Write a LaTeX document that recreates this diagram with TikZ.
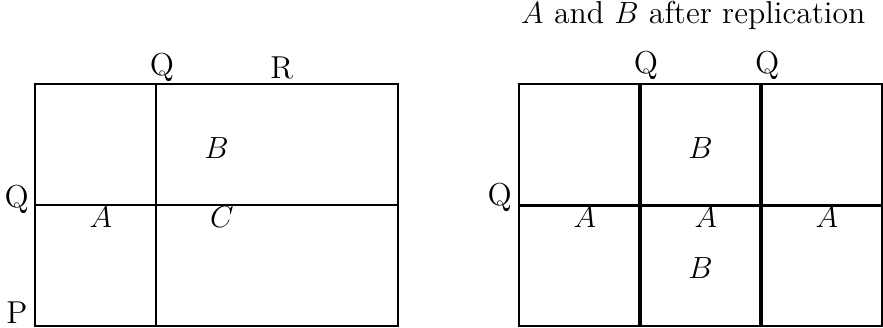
\documentclass[tikz,border=0pt]{standalone}
\begin{document}
\begin{tikzpicture}[x=2cm,y=2cm,font=\fontsize{14.9}{18}\selectfont,
    cell/.style={line width=0.95pt},
    cut/.style={line width=1.9pt},
    mid/.style={line width=1.4pt}]
  \useasboundingbox (-0.289,-0.012) rectangle (7.008,2.698);
  % before
  \draw[cell] (0,0) rectangle (3,2);
  \draw[cell] (1,0)--(1,2);
  \draw[cell] (0,1)--(3,1);
  \node (qtop) at (1.05,2.14) {Q};
  \node (rtop) at (2.04,2.14) {R};
  \node (qleft) at (-0.15,1.05) {Q};
  \node (pleft) at (-0.15,0.115) {P};
  \node (b) at (1.5,1.475) {$B$};
  \node (a) at (0.545,0.905) {$A$};
  \node (c) at (1.545,0.905) {$C$};
  % after
  \draw[cell] (4,0) rectangle (7,2);
  \draw[mid] (4,1)--(7,1);
  \draw[cut] (5,0)--(5,2);
  \draw[cut] (6,0)--(6,2);
  \node (title) at (5.44,2.574) {$A$ and $B$ after replication};
  \node (q1) at (5.05,2.16) {Q};
  \node (q2) at (6.05,2.16) {Q};
  \node (q3) at (3.84,1.07) {Q};
  \node (b1) at (5.5,1.475) {$B$};
  \node (b2) at (5.5,0.483) {$B$};
  \node (a1) at (4.545,0.905) {$A$};
  \node (a2) at (5.545,0.905) {$A$};
  \node (a3) at (6.545,0.905) {$A$};
\end{tikzpicture}
\end{document}
